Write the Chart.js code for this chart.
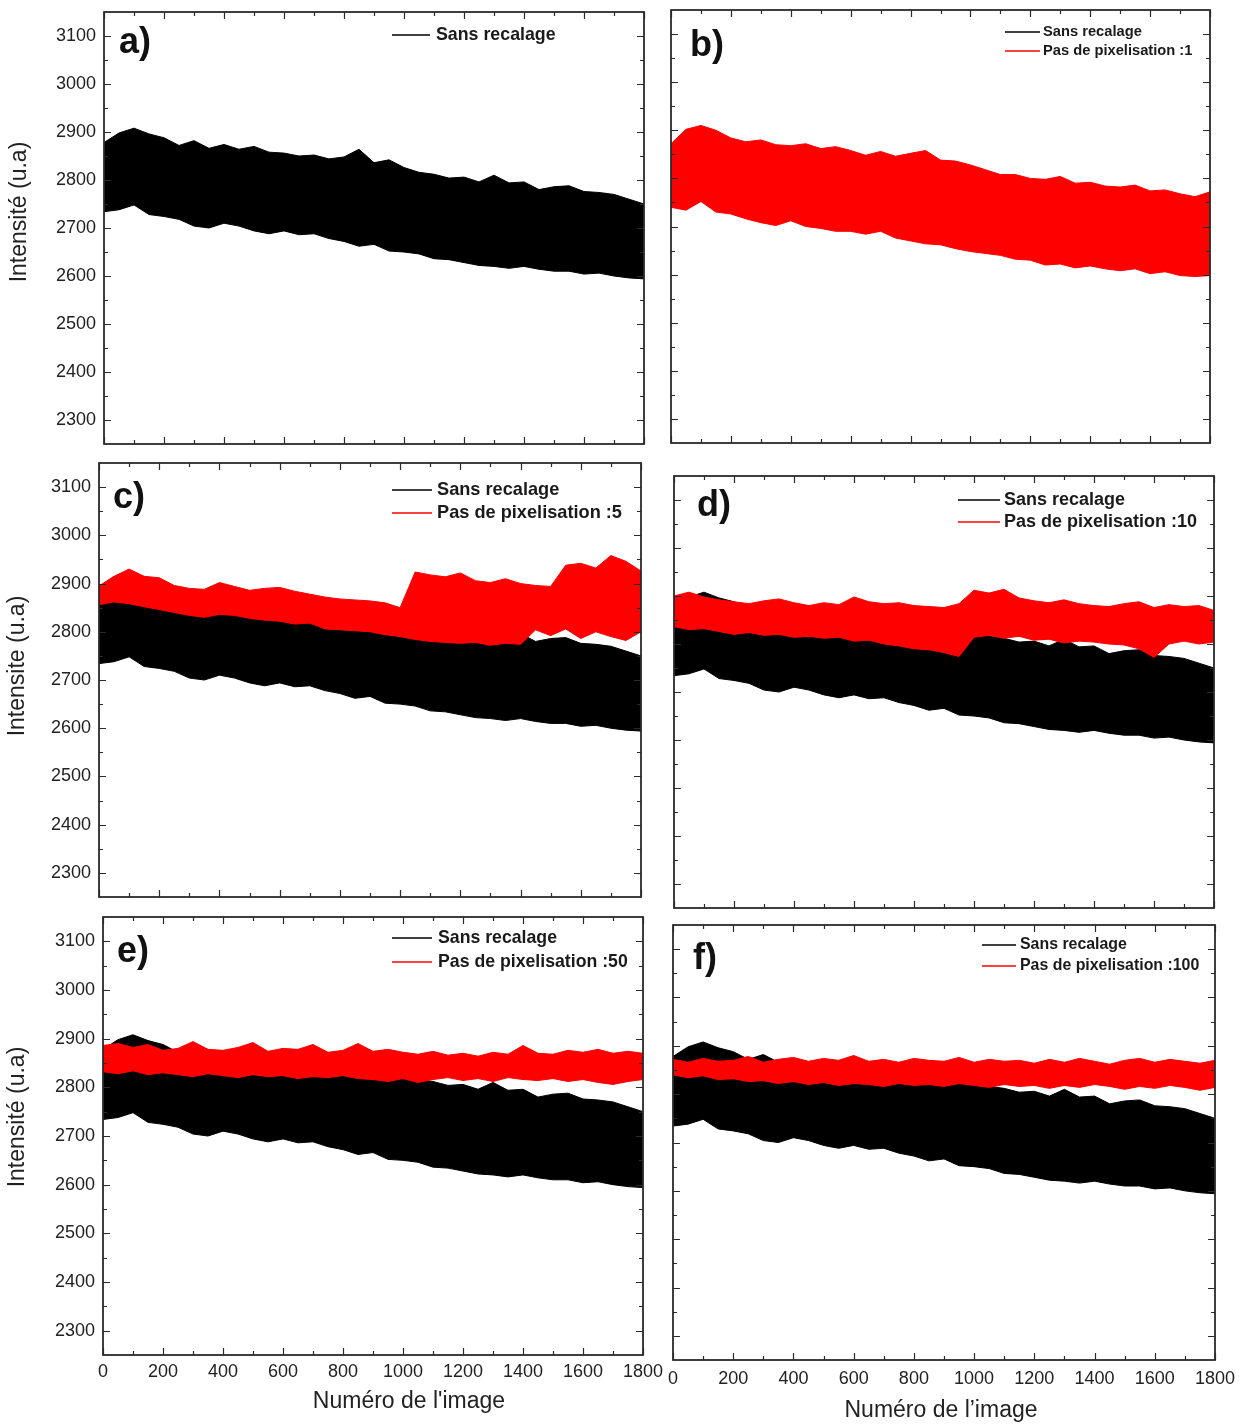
<!DOCTYPE html>
<html lang="fr">
<head>
<meta charset="utf-8">
<script src="https://cdn.jsdelivr.net/npm/chart.js@4.4.1/dist/chart.umd.min.js"></script>
<style>
  html, body { margin: 0; padding: 0; background: #fff; }
  #planche { position: relative; width: 1246px; height: 1425px; overflow: hidden; }
  #planche canvas { position: absolute; }
</style>
</head>
<body>
<div id="planche"></div>
<script>
// ===== DONNEES (enveloppes haut / bas des signaux, un point toutes les 50 images) =====
const imageNum = [0,50,100,150,200,250,300,350,400,450,500,550,600,650,700,750,800,850,900,950,
  1000,1050,1100,1150,1200,1250,1300,1350,1400,1450,1500,1550,1600,1650,1700,1750,1800];

const xTicks = [0,200,400,600,800,1000,1200,1400,1600,1800];
const yTicks = [2300,2400,2500,2600,2700,2800,2900,3000,3100];

// Sans recalage (noir)
const sansHaut = [2878,2898,2908,2896,2888,2872,2882,2866,2874,2864,2870,2858,2856,2850,2852,2844,2848,2864,2836,2842,
  2826,2816,2812,2804,2806,2796,2810,2794,2796,2780,2786,2788,2776,2774,2770,2760,2750];
const sansBas = [2734,2738,2748,2728,2724,2718,2704,2700,2710,2704,2694,2688,2694,2686,2688,2678,2672,2662,2666,2652,
  2650,2646,2636,2634,2628,2622,2620,2616,2620,2614,2610,2610,2604,2606,2600,2596,2594];

// Pas de pixelisation :1
const pas1Haut = [2872,2902,2910,2900,2884,2876,2880,2870,2868,2872,2862,2866,2858,2848,2856,2846,2852,2858,2838,2836,
  2828,2818,2808,2808,2800,2798,2804,2790,2792,2784,2782,2786,2774,2776,2768,2762,2772];
const pas1Bas = [2740,2734,2752,2730,2726,2716,2708,2702,2712,2700,2696,2690,2690,2684,2690,2676,2670,2664,2662,2654,
  2648,2644,2640,2632,2630,2620,2622,2614,2618,2612,2608,2612,2602,2606,2598,2596,2598];

// Pas de pixelisation :5
const pas5Haut = [2895,2915,2930,2915,2912,2896,2890,2888,2902,2894,2886,2890,2892,2884,2878,2872,2868,2866,2864,2860,
  2850,2924,2918,2914,2922,2906,2902,2910,2900,2896,2894,2938,2942,2932,2958,2946,2926];
const pas5Bas = [2856,2862,2858,2852,2846,2840,2834,2830,2836,2834,2828,2824,2822,2816,2818,2806,2804,2802,2800,2794,
  2790,2784,2780,2778,2776,2778,2772,2776,2774,2804,2792,2806,2786,2800,2790,2782,2800];

// Pas de pixelisation :10
const pas10Haut = [2900,2908,2898,2892,2888,2884,2890,2894,2886,2880,2886,2882,2898,2888,2884,2886,2880,2878,2876,2884,
  2912,2906,2914,2896,2890,2886,2892,2884,2880,2878,2884,2888,2876,2882,2878,2880,2870];
const pas10Bas = [2836,2830,2832,2826,2820,2824,2818,2820,2814,2816,2812,2814,2806,2808,2800,2796,2790,2788,2782,2774,
  2814,2818,2812,2816,2808,2810,2802,2806,2804,2800,2798,2790,2772,2800,2806,2800,2804];

// Pas de pixelisation :50
const pas50Haut = [2886,2890,2882,2888,2876,2880,2894,2878,2876,2882,2892,2874,2880,2878,2888,2872,2876,2890,2874,2878,
  2872,2868,2874,2866,2870,2864,2872,2868,2886,2870,2868,2876,2872,2878,2870,2874,2870];
const pas50Bas = [2832,2828,2834,2826,2830,2826,2822,2828,2824,2820,2826,2822,2824,2818,2822,2820,2824,2818,2816,2812,
  2818,2810,2816,2820,2814,2818,2812,2820,2816,2814,2818,2812,2816,2810,2806,2812,2816];

// Pas de pixelisation :100
const pas100Haut = [2872,2866,2874,2868,2870,2878,2866,2872,2876,2868,2874,2870,2880,2868,2872,2866,2874,2870,2868,2876,
  2866,2872,2868,2870,2864,2872,2866,2874,2868,2862,2870,2874,2866,2872,2868,2864,2870];
const pas100Bas = [2840,2834,2838,2830,2832,2826,2828,2822,2826,2820,2824,2818,2822,2820,2816,2822,2818,2820,2816,2822,
  2818,2814,2820,2816,2818,2812,2818,2814,2820,2816,2810,2816,2812,2818,2814,2808,2814];

const NOIR = '#000000';
const ROUGE = '#ff0000';
const POLICE = 'Arial, "Liberation Sans", sans-serif';

/* ================= PLUGINS ================= */
// cadre + graduations vers l'intérieur sur les 4 côtés
const cadrePlugin = {
  id: 'cadre',
  afterDraw(chart) {
    const { ctx, chartArea: a, scales: { x, y } } = chart;
    ctx.save();
    ctx.strokeStyle = '#2a2a2a';
    ctx.lineWidth = 1.2;
    ctx.beginPath();
    for (let v = 0; v <= 1800; v += 100) {
      const px = Math.round(x.getPixelForValue(v)) + 0.5;
      const len = v % 200 === 0 ? 7 : 4;
      ctx.moveTo(px, a.bottom); ctx.lineTo(px, a.bottom - len);
      ctx.moveTo(px, a.top); ctx.lineTo(px, a.top + len);
    }
    for (let v = 2300; v <= 3100; v += 50) {
      const py = Math.round(y.getPixelForValue(v)) + 0.5;
      const len = v % 100 === 0 ? 7 : 4;
      ctx.moveTo(a.left, py); ctx.lineTo(a.left + len, py);
      ctx.moveTo(a.right, py); ctx.lineTo(a.right - len, py);
    }
    ctx.stroke();
    ctx.lineWidth = 1.8;
    ctx.strokeRect(a.left, a.top, a.right - a.left, a.bottom - a.top);
    ctx.restore();
  }
};

// légende dans le cadre, lettre du panneau, titres des axes
const legendePlugin = {
  id: 'legendeInterne',
  afterDraw(chart, args, o) {
    const ctx = chart.ctx;
    ctx.save();
    ctx.font = 'bold ' + o.taille + 'px ' + POLICE;
    ctx.textBaseline = 'middle';
    o.lignes.forEach(function (l, i) {
      const yy = o.y + i * o.pas - o.oy;
      ctx.strokeStyle = l[1];
      ctx.lineWidth = 1.5;
      ctx.beginPath();
      ctx.moveTo(o.x1 - o.ox, yy);
      ctx.lineTo(o.x2 - o.ox, yy);
      ctx.stroke();
      ctx.fillStyle = '#1a1a1a';
      ctx.fillText(l[0], o.xt - o.ox, yy);
    });
    ctx.font = 'bold 36px ' + POLICE;
    ctx.textBaseline = 'alphabetic';
    ctx.fillStyle = '#111';
    ctx.fillText(o.lettre, o.lx - o.ox, o.ly - o.oy);

    ctx.font = '23px ' + POLICE;
    ctx.fillStyle = '#222';
    ctx.textAlign = 'center';
    ctx.textBaseline = 'middle';
    if (o.yTitre) {
      ctx.save();
      ctx.translate(o.yTitre[1] - o.ox, o.yTitre[2] - o.oy);
      ctx.rotate(-Math.PI / 2);
      ctx.fillText(o.yTitre[0], 0, 0);
      ctx.restore();
    }
    if (o.xTitre) {
      ctx.fillText(o.xTitre[0], o.xTitre[1] - o.ox, o.xTitre[2] - o.oy);
    }
    ctx.restore();
  }
};

/* ================= PANNEAUX ================= */
const panneaux = [
  { lettre: 'a)', zone: [104, 12, 644, 444], lettrePos: [119, 53],
    yTitre: ['Intensité (u.a)', 20, 212], xTitre: null,
    series: [[sansHaut, sansBas, NOIR]],
    leg: { x1: 392, x2: 430, xt: 436, y: 35, pas: 22, taille: 17.8, lignes: [['Sans recalage', NOIR]] } },
  { lettre: 'b)', zone: [671, 10, 1210, 443], lettrePos: [690, 56],
    yTitre: null, xTitre: null,
    series: [[pas1Haut, pas1Bas, ROUGE]],
    leg: { x1: 1005, x2: 1040, xt: 1043, y: 32, pas: 19, taille: 14.7,
      lignes: [['Sans recalage', NOIR], ['Pas de pixelisation :1', ROUGE]] } },
  { lettre: 'c)', zone: [99, 463, 641, 897], lettrePos: [113, 508],
    yTitre: ['Intensite (u.a)', 18, 666], xTitre: null,
    series: [[pas5Haut, pas5Bas, ROUGE], [sansHaut, sansBas, NOIR]],
    leg: { x1: 392, x2: 432, xt: 437, y: 490, pas: 23, taille: 18.2,
      lignes: [['Sans recalage', NOIR], ['Pas de pixelisation :5', ROUGE]] } },
  { lettre: 'd)', zone: [674, 476, 1214, 908], lettrePos: [697, 516],
    yTitre: null, xTitre: null,
    series: [[pas10Haut, pas10Bas, ROUGE], [sansHaut, sansBas, NOIR]],
    leg: { x1: 958, x2: 1000, xt: 1004, y: 500, pas: 22, taille: 18,
      lignes: [['Sans recalage', NOIR], ['Pas de pixelisation :10', ROUGE]] } },
  { lettre: 'e)', zone: [103, 917, 643, 1355], lettrePos: [117, 962],
    yTitre: ['Intensité (u.a)', 18, 1117], xTitre: ["Numéro de l'image", 409, 1402], xH: 60, xPad: 6,
    series: [[pas50Haut, pas50Bas, ROUGE], [sansHaut, sansBas, NOIR]],
    leg: { x1: 392, x2: 432, xt: 438, y: 938, pas: 24, taille: 17.7,
      lignes: [['Sans recalage', NOIR], ['Pas de pixelisation :50', ROUGE]] } },
  { lettre: 'f)', zone: [673, 925, 1215, 1360], lettrePos: [693, 969],
    yTitre: null, xTitre: ['Numéro de l’image', 941, 1411], xH: 65, xPad: 8,
    series: [[pas100Haut, pas100Bas, ROUGE], [sansHaut, sansBas, NOIR]],
    leg: { x1: 982, x2: 1016, xt: 1020, y: 945, pas: 21, taille: 15.9,
      lignes: [['Sans recalage', NOIR], ['Pas de pixelisation :100', ROUGE]] } }
];

const planche = document.getElementById('planche');

function creerPanneau(p) {
  const [L, T, R, B] = p.zone;
  const avecY = !!p.yTitre;
  const avecX = !!p.xTitre;
  const yW = avecY ? L : 8;
  const padT = 4, padR = 24;
  const xH = avecX ? p.xH : 4;
  const w = yW + (R - L) + padR;
  const h = padT + (B - T) + xH;
  const ox = L - yW, oy = T - padT;

  const canvas = document.createElement('canvas');
  canvas.width = w; canvas.height = h;
  canvas.style.width = w + 'px'; canvas.style.height = h + 'px';
  canvas.style.left = ox + 'px'; canvas.style.top = oy + 'px';
  planche.appendChild(canvas);

  // premier jeu dessiné au-dessus : rouge d'abord
  const datasets = [];
  p.series.forEach(function (s) {
    datasets.push({
      data: imageNum.map((n, i) => ({ x: n, y: s[0][i] })),
      borderColor: s[2], backgroundColor: s[2], borderWidth: 1, fill: '+1'
    });
    datasets.push({
      data: imageNum.map((n, i) => ({ x: n, y: s[1][i] })),
      borderColor: s[2], backgroundColor: s[2], borderWidth: 1, fill: false
    });
  });

  new Chart(canvas, {
    type: 'line',
    data: { datasets: datasets },
    options: {
      responsive: false,
      animation: false,
      devicePixelRatio: 1,
      layout: { padding: { top: padT, right: padR, left: 0, bottom: 0 } },
      elements: { point: { radius: 0 }, line: { tension: 0 } },
      plugins: {
        legend: { display: false },
        tooltip: { enabled: false },
        legendeInterne: Object.assign({ ox: ox, oy: oy, lettre: p.lettre, lx: p.lettrePos[0], ly: p.lettrePos[1],
          yTitre: p.yTitre, xTitre: p.xTitre }, p.leg)
      },
      scales: {
        x: {
          type: 'linear', min: 0, max: 1800,
          grid: { display: false, drawTicks: false },
          border: { display: false },
          ticks: { display: avecX, autoSkip: false, maxRotation: 0, padding: avecX ? p.xPad : 0,
            color: '#222', font: { family: POLICE, size: 18 }, callback: v => String(v) },
          afterBuildTicks: s => { s.ticks = xTicks.map(v => ({ value: v })); },
          afterFit: s => { s.height = xH; s.paddingLeft = 0; s.paddingRight = 0; }
        },
        y: {
          type: 'linear', min: 2250, max: 3150,
          grid: { display: false, drawTicks: false },
          border: { display: false },
          ticks: { display: avecY, padding: 8, color: '#222', font: { family: POLICE, size: 18 },
            callback: v => String(v) },
          afterBuildTicks: s => { s.ticks = yTicks.map(v => ({ value: v })); },
          afterFit: s => { s.width = yW; s.paddingTop = 0; s.paddingBottom = 0; }
        }
      }
    },
    plugins: [cadrePlugin, legendePlugin]
  });
}

panneaux.forEach(creerPanneau);
</script>
</body>
</html>
